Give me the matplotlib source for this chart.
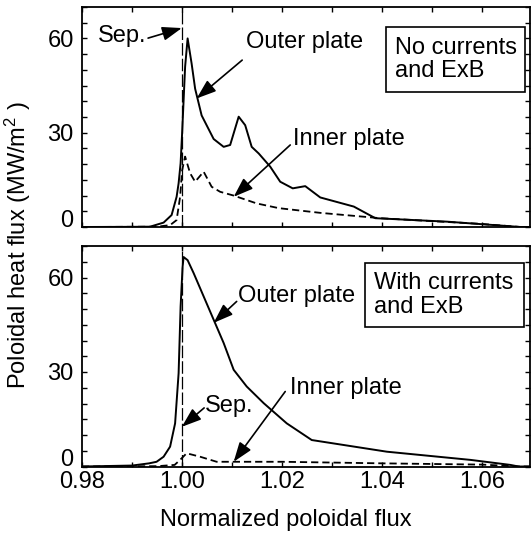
import numpy as np
import matplotlib
matplotlib.use('Agg')
import matplotlib.pyplot as plt
from matplotlib.patches import Rectangle
from matplotlib.ticker import MultipleLocator

plt.rcParams['font.family'] = ['Liberation Sans', 'DejaVu Sans']
plt.rcParams['mathtext.fontset'] = 'custom'
plt.rcParams['mathtext.rm'] = 'Liberation Sans'
plt.rcParams['mathtext.it'] = 'Liberation Sans:italic'

FS = 17

# top panel: no currents and ExB
x_out_a = [0.9800, 0.9900, 0.9936, 0.9963, 0.9979, 0.9989, 0.9993, 0.9997, 1.0000, 1.0006,
           1.0011, 1.0019, 1.0026, 1.0039, 1.0063, 1.0083, 1.0096, 1.0113, 1.0126, 1.0139,
           1.0153, 1.0176, 1.0196, 1.0221, 1.0246, 1.0276, 1.0343, 1.0386, 1.0529, 1.0676, 1.0695]
q_out_a = [0.0, 0.05, 0.1, 1.4, 3.8, 9.6, 13.9, 20.3, 29.8, 51.0,
           60.0, 52.0, 44.0, 35.5, 28.0, 25.5, 26.1, 35.1, 32.4, 25.5,
           23.4, 19.2, 14.4, 12.3, 13.0, 9.4, 6.5, 2.8, 1.7, 0.0, 0.0]
x_in_a = [0.9800, 0.9950, 0.9976, 0.9989, 0.9996, 1.0000, 1.0006, 1.0016, 1.0026, 1.0043,
          1.0059, 1.0076, 1.0103, 1.0149, 1.0193, 1.0276, 1.0396, 1.0596, 1.0676, 1.0695]
q_in_a = [0.0, 0.1, 0.6, 2.2, 9.6, 18.0, 22.4, 17.1, 14.4, 17.6,
          12.8, 11.2, 10.0, 7.5, 6.0, 4.5, 2.8, 1.0, 0.0, 0.0]

# bottom panel: with currents and ExB
x_out_b = [0.9800, 0.9900, 0.9934, 0.9949, 0.9963, 0.9976, 0.9986, 0.9993, 0.9997, 1.0001,
           1.0003, 1.0011, 1.0023, 1.0043, 1.0063, 1.0083, 1.0103, 1.0129, 1.0163, 1.0209,
           1.0259, 1.0409, 1.0576, 1.0656, 1.0672, 1.0695]
q_out_b = [0.0, 0.3, 1.0, 1.5, 3.1, 6.3, 13.7, 29.6, 50.8, 63.5,
           66.5, 65.5, 61.4, 54.0, 46.6, 39.2, 30.7, 25.4, 20.1, 13.7,
           8.4, 4.7, 2.1, 0.5, 0.0, 0.0]
x_in_b = [0.9800, 0.9950, 0.9985, 0.9996, 1.0009, 1.0036, 1.0069, 1.0103, 1.0200, 1.0400,
          1.0600, 1.0676, 1.0695]
q_in_b = [0.0, 0.1, 0.5, 2.1, 4.2, 3.1, 1.5, 1.5, 1.5, 1.0, 0.6, 0.0, 0.0]

sep = 1.0
xticks = [0.98, 1.00, 1.02, 1.04, 1.06]
yticks = [0, 30, 60]

W, H = 531, 536
fig = plt.figure(figsize=(W / 100, H / 100), dpi=100)


def px_axes(left, top, right, bottom):
    return fig.add_axes([left / W, 1 - bottom / H, (right - left) / W, (bottom - top) / H])


def style(ax, labels):
    ax.set_xlim(0.98, 1.0695)
    ax.set_ylim(0, 70)
    ax.set_xticks(xticks)
    ax.set_yticks(yticks)
    ax.xaxis.set_minor_locator(MultipleLocator(0.01))
    ax.yaxis.set_minor_locator(MultipleLocator(5))
    ax.tick_params(which='both', direction='in', top=True, right=True, length=3.8,
                   width=1.0, labelsize=FS)
    ax.tick_params(axis='y', pad=6)
    ax.tick_params(axis='x', pad=3)
    if labels:
        ax.set_xticklabels(['%.2f' % t for t in xticks])
    else:
        ax.set_xticklabels([])
    # the zero label sits on the axis, not centred on it
    ax.get_yticklabels()[0].set_va('baseline')
    for s in ax.spines.values():
        s.set_linewidth(1.3)


def arrow(ax, tail, head):
    ax.annotate('', xy=head, xytext=tail,
                arrowprops=dict(arrowstyle='-|>,head_length=0.7,head_width=0.25',
                                mutation_scale=17, color='k', lw=1.2,
                                shrinkA=0, shrinkB=0))


def panel(ax, xo, qo, xi, qi):
    ax.plot(xo, qo, color='k', lw=1.4)
    ax.plot(xi, qi, color='k', lw=1.3, ls=(0, (4, 2.2)))
    ax.axvline(sep, color='k', lw=0.9, ls=(0, (10, 2.5)))


def box(ax, x0, y0, x1, y1, txt):
    ax.add_patch(Rectangle((x0, y0), x1 - x0, y1 - y0, fill=False, ec='k', lw=1.2, zorder=5))
    ax.text(x0 + 0.0018, (y0 + y1) / 2, txt, fontsize=FS, ha='left', va='center',
            linespacing=1.1, zorder=6)


ax1 = px_axes(82, 7, 530, 227)
panel(ax1, x_out_a, q_out_a, x_in_a, q_in_a)
style(ax1, False)
ax1.text(0.9832, 60.8, 'Sep.', fontsize=FS, ha='left', va='center')
arrow(ax1, (0.9932, 60.1), (0.99994, 63.3))
ax1.text(1.0128, 58.8, 'Outer plate', fontsize=FS, ha='left', va='center')
arrow(ax1, (1.0120, 53.1), (1.0029, 40.9))
ax1.text(1.0222, 28.0, 'Inner plate', fontsize=FS, ha='left', va='center')
arrow(ax1, (1.0216, 26.1), (1.0103, 9.6))
box(ax1, 1.0408, 42.9, 1.0686, 63.6, 'No currents\nand ExB')

ax2 = px_axes(82, 246, 530, 466.5)
panel(ax2, x_out_b, q_out_b, x_in_b, q_in_b)
style(ax2, True)
ax2.text(1.0112, 54.2, 'Outer plate', fontsize=FS, ha='left', va='center')
arrow(ax2, (1.0109, 52.4), (1.0063, 45.6))
ax2.text(1.0046, 19.2, 'Sep.', fontsize=FS, ha='left', va='center')
arrow(ax2, (1.0044, 18.6), (0.99994, 12.6))
ax2.text(1.0216, 24.8, 'Inner plate', fontsize=FS, ha='left', va='center')
arrow(ax2, (1.0206, 23.8), (1.0103, 1.5))
box(ax2, 1.0366, 44.4, 1.0684, 64.7, 'With currents\nand ExB')

fig.text(18 / W, 1 - 245 / H, r'Poloidal heat flux (MW/m$^2$ )', rotation=90,
         ha='center', va='center', fontsize=FS)
fig.text(286 / W, 1 - 520 / H, 'Normalized poloidal flux', ha='center', va='center',
         fontsize=FS)

fig.savefig('out.png', dpi=100)
